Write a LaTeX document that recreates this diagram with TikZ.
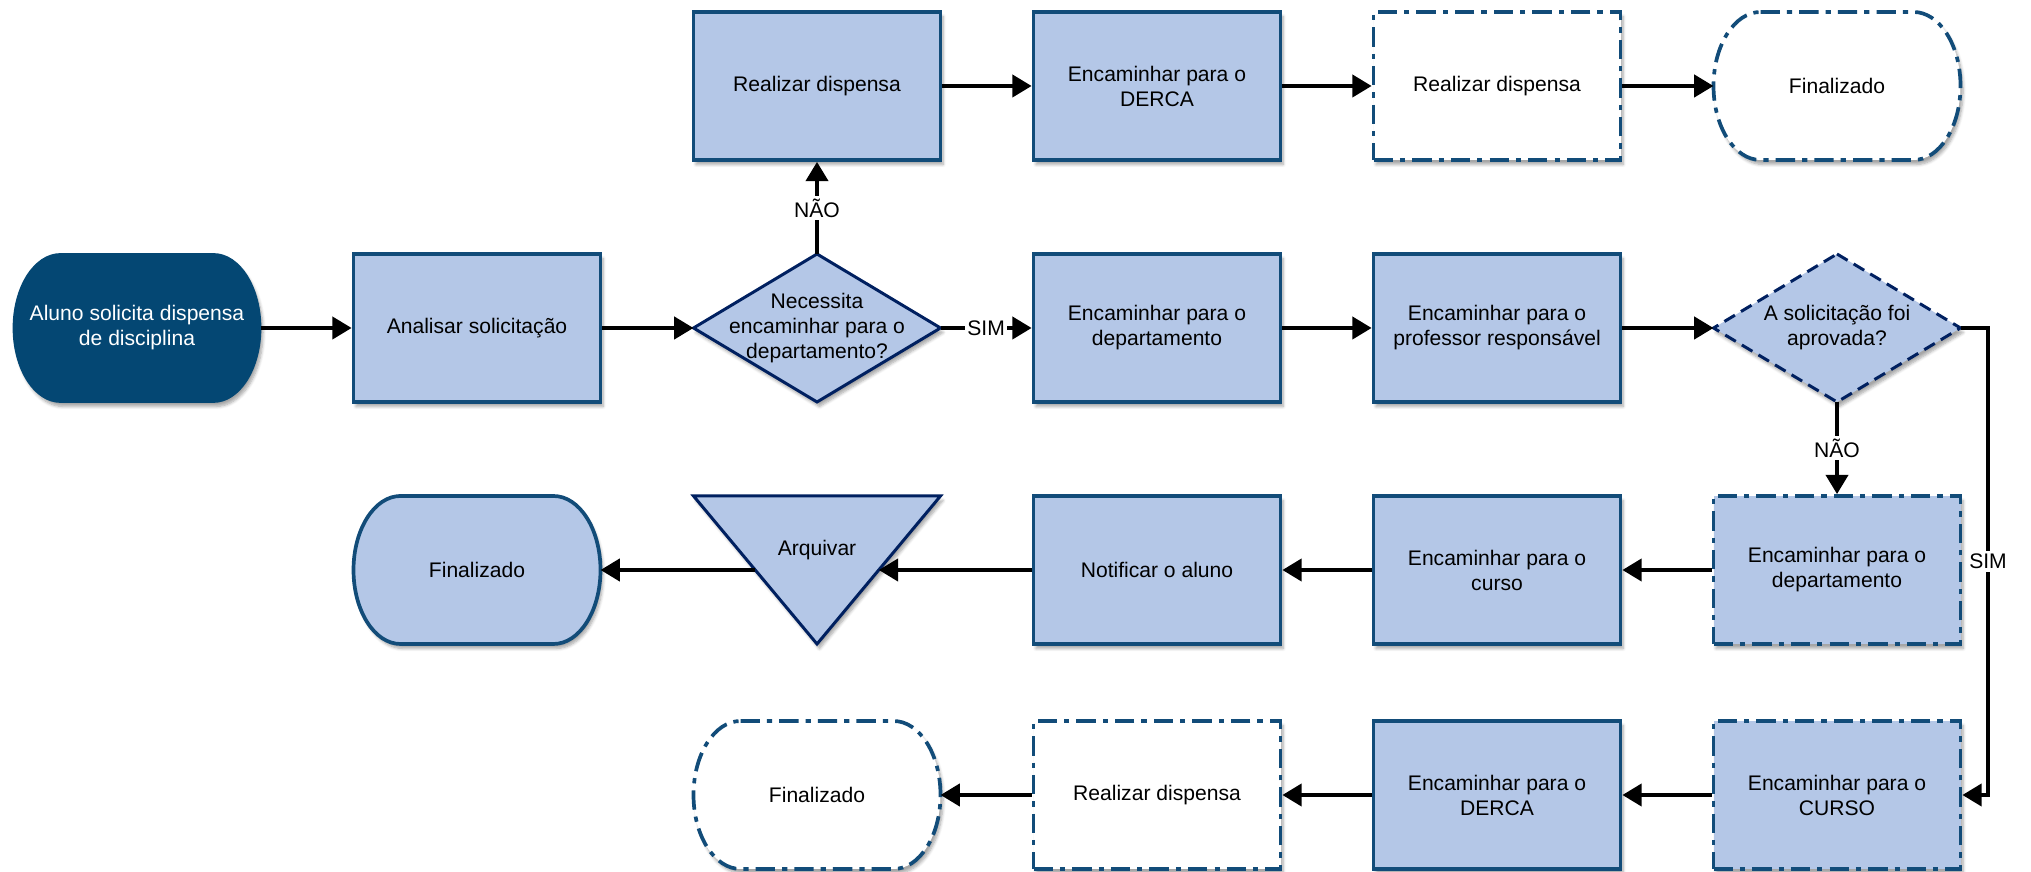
\documentclass[tikz,border=0pt]{standalone}
\usepackage{fontspec}
\setmainfont{Liberation Sans}
\usetikzlibrary{positioning}
\usetikzlibrary{arrows.meta}
\usetikzlibrary{calc}
\usetikzlibrary{backgrounds}
\usetikzlibrary{shadows.blur}
\definecolor{boxfill}{RGB}{180,199,231}
\definecolor{boxline}{RGB}{18,76,121}
\definecolor{startfill}{RGB}{4,71,115}
\definecolor{navyline}{RGB}{0,32,96}
\tikzset{
    sombra/.style = {blur shadow={shadow xshift=0.05cm, shadow yshift=-0.09cm, shadow opacity=35, shadow blur steps=6, shadow blur radius=0.06cm}},
    caixa/.style = {rectangle, draw=boxline, line width=2.1pt, fill=boxfill, minimum width=4.94cm, minimum height=2.96cm, align=center, sombra},
    caixab/.style = {caixa, fill=white, dash pattern=on 11pt off 4pt on 3pt off 4pt}, % white, dash dot
    caixad/.style = {caixa, dash pattern=on 11pt off 4pt on 3pt off 4pt},
    forma/.style = {rectangle, minimum width=4.94cm, minimum height=2.96cm, align=center, outer sep=0pt},
    termstart/.style = {fill=startfill, draw=startfill, line width=1pt, sombra},
    termfill/.style = {fill=boxfill, draw=boxline, line width=2.1pt, sombra},
    termdash/.style = {fill=white, draw=boxline, line width=2.1pt, dash pattern=on 11pt off 4pt on 3pt off 4pt, sombra},
    losango/.style = {fill=boxfill, draw=navyline, line width=1.7pt, sombra},
    losangod/.style = {losango, dash pattern=on 7pt off 4pt},
    triangulo/.style = {fill=boxfill, draw=navyline, line width=1.7pt, sombra},
    edgen/.style = {-{Triangle[length=11pt,width=12.5pt]}, line width=2.4pt},
    rotulo/.style = {fill=white, inner sep=1.5pt}
}
\newcommand{\termshape}[2]{%
  \path[#1] ($(#2.north west)+(0.94,0)$) -- ($(#2.north east)+(-0.94,0)$)
    arc[start angle=90, end angle=-90, x radius=0.94, y radius=1.48]
    -- ($(#2.south west)+(0.94,0)$)
    arc[start angle=270, end angle=90, x radius=0.94, y radius=1.48] -- cycle;}
\newcommand{\losango}[2]{%
  \path[#1] (#2.north) -- (#2.east) -- (#2.south) -- (#2.west) -- cycle;}
\newcommand{\triangulo}[2]{%
  \path[#1] (#2.north west) -- (#2.north east) -- (#2.south) -- cycle;}

\begin{document}
\begin{tikzpicture}[font=\fontsize{12}{14.2}\selectfont]
\useasboundingbox (0,0) rectangle (40.62,17.44);
%
\node[caixa] at (16.34, 15.72) (realizar) {Realizar dispensa};
\node[caixa] at (23.14, 15.72) (derca) {Encaminhar para o\\DERCA};
\node[caixab] at (29.94, 15.72) (realizarb) {Realizar dispensa};
\node[forma] at (36.74, 15.72) (fima) {Finalizado};
%
\node[forma, text=white] at (2.74, 10.88) (aluno) {Aluno solicita dispensa\\de disciplina};
\node[caixa] at (9.54, 10.88) (analisar) {Analisar solicitação};
\node[forma] at (16.34, 10.88) (necessita) {Necessita\\encaminhar para o\\departamento?};
\node[caixa] at (23.14, 10.88) (depto) {Encaminhar para o\\departamento};
\node[caixa] at (29.94, 10.88) (professor) {Encaminhar para o\\professor responsável};
\node[forma] at (36.74, 10.88) (aprovada) {A solicitação foi\\aprovada?};
%
\node[forma] at (9.54, 6.04) (fimb) {Finalizado};
\node[forma, text depth=0.9cm] at (16.34, 6.04) (arquivar) {Arquivar};
\node[caixa] at (23.14, 6.04) (notificar) {Notificar o aluno};
\node[caixa] at (29.94, 6.04) (curso) {Encaminhar para o\\curso};
\node[caixad] at (36.74, 6.04) (deptob) {Encaminhar para o\\departamento};
%
\node[forma] at (16.34, 1.54) (fimc) {Finalizado};
\node[caixab] at (23.14, 1.54) (realizarc) {Realizar dispensa};
\node[caixa] at (29.94, 1.54) (dercab) {Encaminhar para o\\DERCA};
\node[caixad] at (36.74, 1.54) (cursob) {Encaminhar para o\\CURSO};
%
\coordinate (arqE) at ($(arquivar.north east)!0.5!(arquivar.south)$);
\coordinate (arqW) at ($(arquivar.north west)!0.5!(arquivar.south)$);
\coordinate (volta) at (39.76, 10.88);
%
\draw[edgen] (aluno) edge node {} (analisar);
\draw[edgen] (analisar) edge node {} (necessita);
\draw[edgen] (necessita) edge node[rotulo, midway] {NÃO} (realizar);
\draw[edgen] (necessita) edge node[rotulo, midway] {SIM} (depto);
\draw[edgen] (realizar) edge node {} (derca);
\draw[edgen] (derca) edge node {} (realizarb);
\draw[edgen] (realizarb) edge node {} (fima);
\draw[edgen] (depto) edge node {} (professor);
\draw[edgen] (professor) edge node {} (aprovada);
\draw[edgen] (aprovada) edge node[rotulo, midway] {NÃO} (deptob);
\draw[edgen] (aprovada.east) -- (volta) |- node[rotulo, pos=0.25] {SIM} (cursob.east);
\draw[edgen] (deptob) edge node {} (curso);
\draw[edgen] (curso) edge node {} (notificar);
\draw[edgen] (notificar) edge node {} (arqE);
\draw[edgen] (arqW) -- (fimb);
\draw[edgen] (cursob) edge node {} (dercab);
\draw[edgen] (dercab) edge node {} (realizarc);
\draw[edgen] (realizarc) edge node {} (fimc);

\begin{scope}[on background layer]
\termshape{termstart}{aluno}
\termshape{termdash}{fima}
\termshape{termfill}{fimb}
\termshape{termdash}{fimc}
\losango{losango}{necessita}
\losango{losangod}{aprovada}
\triangulo{triangulo}{arquivar}
\end{scope}

\end{tikzpicture}
\end{document}
